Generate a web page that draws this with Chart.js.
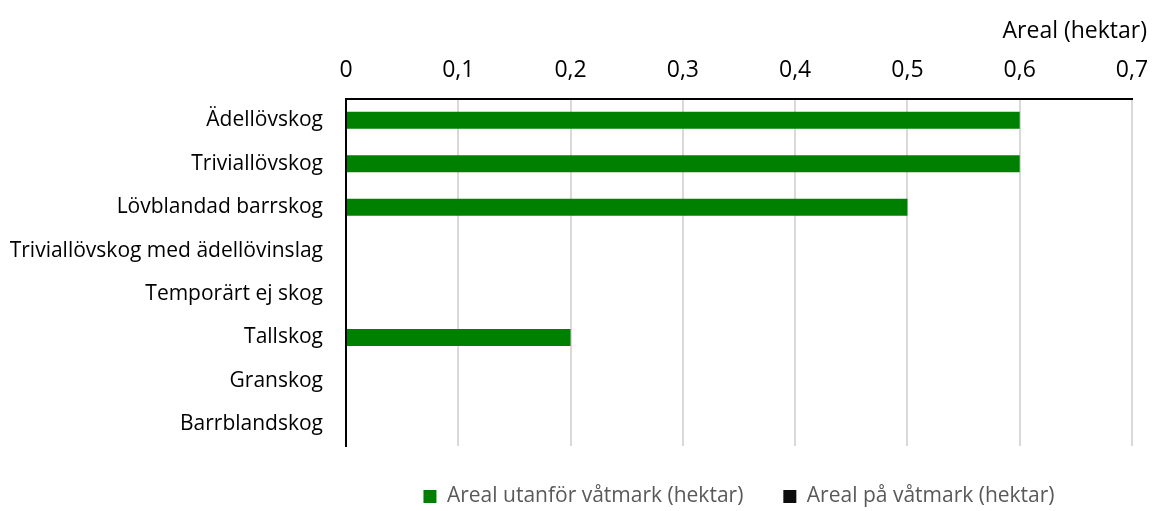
<!DOCTYPE html>
<html>
<head>
<meta charset="utf-8">
<script src="https://cdn.jsdelivr.net/npm/chart.js@4"></script>
<style>
  html,body{margin:0;padding:0;background:#fff;overflow:hidden;}
  #wrap{width:1153px;height:511px;overflow:hidden;}
</style>
</head>
<body>
<div id="wrap"><canvas id="c" width="1153" height="517"></canvas></div>
<script>
const categories = ["Ädellövskog","Triviallövskog","Lövblandad barrskog","Triviallövskog med ädellövinslag","Temporärt ej skog","Tallskog","Granskog","Barrblandskog"];
const utanfor = [0.6, 0.6, 0.5, 0, 0, 0.2, 0, 0];
const pa = [0, 0, 0, 0, 0, 0, 0, 0];
const seriesNames = ["Areal utanför våtmark (hektar)", "Areal på våtmark (hektar)"];
const axisTitle = "Areal (hektar)";
const xMin = 0, xMax = 0.7, xStep = 0.1;

const FONT = "'Open Sans'";
new Chart(document.getElementById('c'), {
  type: 'bar',
  data: {
    labels: categories,
    datasets: [
      {label: seriesNames[0], data: utanfor, backgroundColor: '#008000', borderWidth: 0, barPercentage: 0.39, categoryPercentage: 1},
      {label: seriesNames[1], data: pa, backgroundColor: '#0d0d0d', borderWidth: 0, barPercentage: 0.39, categoryPercentage: 1}
    ]
  },
  options: {
    indexAxis: 'y',
    responsive: false,
    animation: false,
    layout: {padding: {left: 10, right: 6, top: 0, bottom: 0}},
    scales: {
      x: {
        position: 'top', stacked: true, min: xMin, max: xMax,
        ticks: {stepSize: xStep, color: '#000', font: {family: FONT, size: 23}, padding: 14,
          callback: v => v === 0 ? '0' : Number(v).toFixed(1).replace('.', ',')},
        grid: {color: '#d9d9d9', lineWidth: 2, drawTicks: false},
        border: {color: '#000', width: 2},
        afterFit: s => { s.height = 53; s.paddingRight = 21; s.paddingLeft = 0; }
      },
      y: {
        stacked: true,
        ticks: {color: '#000', font: {family: FONT, size: 21}, padding: 23},
        grid: {display: false, drawTicks: false},
        border: {color: '#000', width: 2},
        afterFit: s => { s.width = 336; s.paddingTop = 0; s.paddingBottom = 0; }
      }
    },
    plugins: {
      title: {display: true, text: axisTitle, align: 'end', color: '#000', font: {family: FONT, size: 23, weight: 'normal'}, padding: {top: 18, bottom: 0}},
      legend: {position: 'bottom', fullSize: false,
        labels: {color: '#595959', font: {family: FONT, size: 21}, boxWidth: 13, boxHeight: 13, padding: 40}},
      tooltip: {enabled: false}
    }
  }
});
</script>
</body>
</html>
